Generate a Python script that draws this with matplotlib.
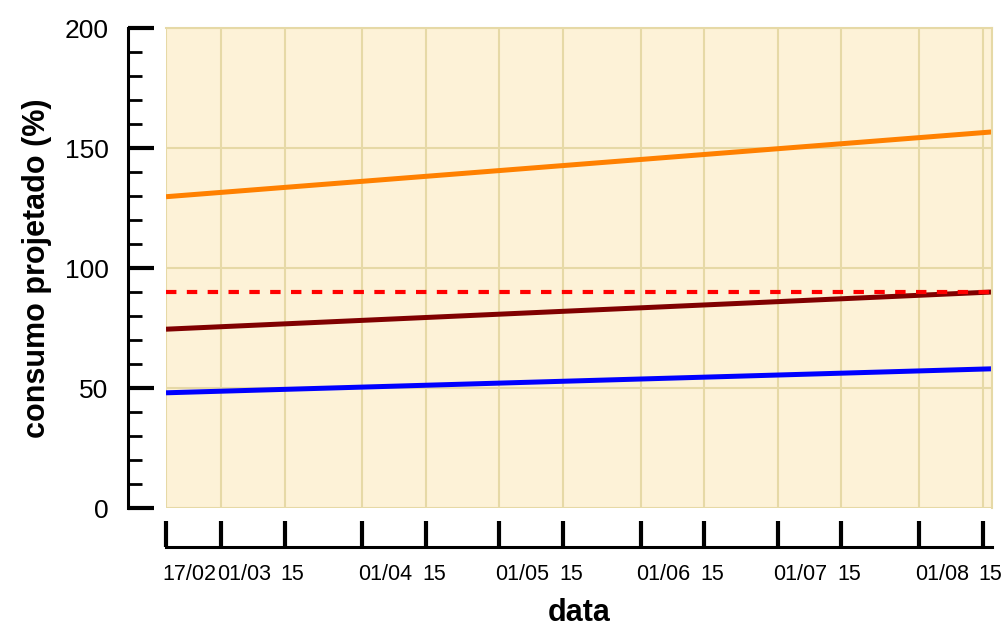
import numpy as np
import matplotlib
matplotlib.use("Agg")
import matplotlib.pyplot as plt
import matplotlib.transforms as mtransforms
from datetime import datetime

plt.rcParams['font.family'] = ['Liberation Sans', 'DejaVu Sans']

# dados (inicio e fim de cada serie)
datas = [datetime(2023, 2, 17), datetime(2023, 8, 17)]
consumo_alto = [129.7, 156.7]      # laranja
consumo_medio = [74.5, 90.0]       # vermelho escuro
consumo_baixo = [48.0, 58.0]       # azul
limite = [90.0, 90.0]              # tracejado vermelho

tick_datas = [datetime(2023, 2, 17), datetime(2023, 3, 1), datetime(2023, 3, 15),
              datetime(2023, 4, 1), datetime(2023, 4, 15), datetime(2023, 5, 1),
              datetime(2023, 5, 15), datetime(2023, 6, 1), datetime(2023, 6, 15),
              datetime(2023, 7, 1), datetime(2023, 7, 15), datetime(2023, 8, 1),
              datetime(2023, 8, 15)]
tick_rotulos = ['17/02', '01/03', '15', '01/04', '15', '01/05', '15',
                '01/06', '15', '01/07', '15', '01/08', '15']

fig = plt.figure(figsize=(10.05, 6.26), dpi=100)
ax = fig.add_axes([166/1005, 118/626, 826/1005, 480/626])

fundo = '#fdf2d7'
grade = '#e6d9a6'
ax.set_facecolor(fundo)

# eixos deslocados (antes de mexer nos ticks, pois set_position os reinicia)
ax.spines['left'].set_position(('outward', 27.4))
ax.spines['bottom'].set_position(('outward', 28))
for lado in ['left', 'bottom']:
    ax.spines[lado].set_linewidth(2.2)
    ax.spines[lado].set_color('black')
for lado in ['top', 'right']:
    ax.spines[lado].set_color(grade)
    ax.spines[lado].set_linewidth(1.5)

ax.plot(datas, consumo_alto, color='#ff8000', lw=3.6, solid_capstyle='butt')
ax.plot(datas, consumo_medio, color='#800000', lw=3.6, solid_capstyle='butt')
ax.plot(datas, consumo_baixo, color='#0000ff', lw=3.6, solid_capstyle='butt')
ax.plot(datas, limite, color='#ff0000', lw=3.0, dashes=(2.5, 2.5))

ax.set_xlim(datas[0], datas[-1])
ax.set_ylim(0, 200)

ax.set_xticks(tick_datas)
ax.set_xticklabels(tick_rotulos, ha='left', fontsize=15.5)
ax.set_yticks([0, 50, 100, 150, 200])
ax.set_yticks(np.arange(0, 201, 10), minor=True)
ax.tick_params(axis='y', labelsize=19)

ax.grid(True, which='major', color=grade, lw=1.5)
ax.set_axisbelow(True)

ax.tick_params(axis='x', direction='in', length=19, width=3, pad=12)
ax.tick_params(axis='y', which='major', direction='in', length=19, width=3, pad=14)
ax.tick_params(axis='y', which='minor', direction='in', length=10, width=2)

# rotulos do eixo x alinhados a esquerda, um pouco antes do tick
desloca = mtransforms.ScaledTranslation(-4/100, 0, fig.dpi_scale_trans)
for rot in ax.get_xticklabels():
    rot.set_horizontalalignment('left')
    rot.set_transform(rot.get_transform() + desloca)

ax.set_xlabel('data', fontsize=22, fontweight='bold')
ax.set_ylabel('consumo projetado (%)', fontsize=22, fontweight='bold')
ax.xaxis.set_label_coords(0.5, -0.1875)
ax.yaxis.set_label_coords(-0.138, 0.5)

fig.savefig('out.png', dpi=100)
